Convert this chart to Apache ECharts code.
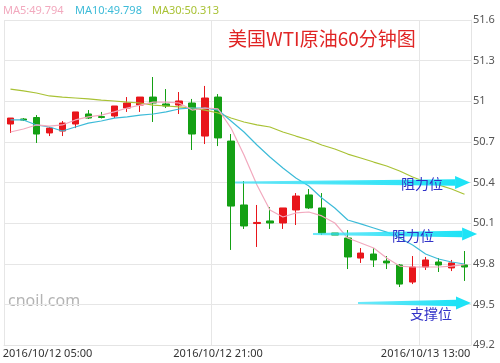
<!DOCTYPE html>
<html>
<head>
<meta charset="utf-8">
<script src="https://cdn.jsdelivr.net/npm/echarts@6/dist/echarts.min.js"></script>
<style>html,body{margin:0;padding:0;background:#fff}#c{width:500px;height:363px}</style>
</head>
<body>
<div id="c"></div>
<script>
const categories = [
  '2016/10/12 05:00','2016/10/12 06:00','2016/10/12 07:00','2016/10/12 08:00','2016/10/12 09:00','2016/10/12 10:00',
  '2016/10/12 11:00','2016/10/12 12:00','2016/10/12 13:00','2016/10/12 14:00','2016/10/12 15:00','2016/10/12 16:00',
  '2016/10/12 17:00','2016/10/12 18:00','2016/10/12 19:00','2016/10/12 20:00','2016/10/12 21:00','2016/10/12 22:00',
  '2016/10/12 23:00','2016/10/13 00:00','2016/10/13 01:00','2016/10/13 02:00','2016/10/13 03:00','2016/10/13 04:00',
  '2016/10/13 05:00','2016/10/13 06:00','2016/10/13 07:00','2016/10/13 08:00','2016/10/13 09:00','2016/10/13 10:00',
  '2016/10/13 11:00','2016/10/13 12:00','2016/10/13 13:00','2016/10/13 14:00','2016/10/13 15:00','2016/10/13 16:00'
];
const opens  = [50.832,50.869,50.880,50.766,50.780,50.832,50.906,50.887,50.891,50.950,50.972,51.031,
                50.980,50.972,50.987,50.743,51.031,50.706,50.234,50.097,50.116,50.101,50.197,50.308,
                50.212,50.027,49.990,49.842,49.872,49.820,49.791,49.665,49.776,49.813,49.769,49.791];
const closes = [50.876,50.861,50.758,50.802,50.839,50.921,50.876,50.880,50.965,50.987,51.031,50.987,
                50.965,51.002,50.758,51.024,50.729,50.226,50.079,50.105,50.101,50.212,50.300,50.212,
                50.027,50.012,49.850,49.879,49.828,49.806,49.650,49.776,49.828,49.791,49.806,49.776];
const lows   = [50.766,50.854,50.692,50.743,50.743,50.802,50.869,50.873,50.876,50.921,50.921,50.847,
                50.950,50.906,50.640,50.684,50.669,49.902,50.057,49.924,50.057,50.057,50.086,50.204,
                50.012,50.012,49.761,49.806,49.776,49.761,49.628,49.650,49.754,49.739,49.746,49.673];
const highs  = [50.876,50.876,50.898,50.810,50.854,50.921,50.935,50.921,50.965,51.031,51.031,51.179,
                51.090,51.068,51.017,51.113,51.053,50.758,50.411,50.234,50.219,50.212,50.322,50.352,
                50.322,50.027,50.049,49.916,49.916,49.857,49.798,49.857,49.850,49.842,49.828,49.894];
const ma5  = [50.773,50.795,50.825,50.817,50.825,50.862,50.884,50.898,50.921,50.950,50.972,50.994,
              50.994,50.987,50.935,50.950,50.943,50.802,50.603,50.382,50.197,50.145,50.175,50.182,
              50.153,50.101,49.990,49.953,49.916,49.842,49.783,49.776,49.776,49.776,49.783,49.794];
const ma10 = [50.862,50.862,50.825,50.810,50.780,50.810,50.839,50.854,50.876,50.884,50.898,50.906,
              50.921,50.943,50.950,50.950,50.935,50.854,50.773,50.677,50.588,50.507,50.433,50.374,
              50.286,50.212,50.123,50.094,50.064,50.034,49.990,49.938,49.872,49.835,49.813,49.798];
const ma30 = [51.090,51.076,51.061,51.039,51.031,51.024,51.017,51.009,51.002,50.994,50.987,50.972,
              50.965,50.958,50.950,50.935,50.913,50.876,50.847,50.825,50.810,50.773,50.743,50.714,
              50.677,50.647,50.610,50.581,50.551,50.522,50.485,50.441,50.404,50.382,50.352,50.313];
const yTicks = [49.2, 49.5, 49.8, 50.1, 50.4, 50.7, 51.0, 51.3, 51.6];
// annotation arrows (category index positions, price levels)
const arrowStart = [17.31, 23.32, 26.79];
const arrowEnd   = [35.43, 35.97, 35.50];
const arrowLevel = [50.40, 50.02, 49.51];
const labelIdx   = [31.73, 31.03, 32.42];
const labelLevel = [50.39, 50.005, 49.429];
const labelText  = ['阻力位', '阻力位', '支撑位'];
const titleText = '美国WTI原油60分钟图';
const watermark = 'cnoil.com';

const RED = '#e8161b', GREEN = '#14a014';
const C5 = '#f2a9be', C10 = '#3dbbd8', C30 = '#a9c235';

const kData = opens.map((o, i) => [o, closes[i], lows[i], highs[i]]);
const fmt = v => v.toFixed(3);

const chart = echarts.init(document.getElementById('c'), null, {renderer: 'canvas'});
chart.setOption({
  animation: false,
  backgroundColor: '#fff',
  grid: {left: 4, right: 29, top: 20, bottom: 18, containLabel: false, outerBoundsMode: 'none'},
  title: {
    text: titleText, left: 228, top: 29, padding: 0,
    textStyle: {color: '#e02424', fontSize: 19, fontWeight: 'normal', fontFamily: '"Noto Sans CJK SC", sans-serif'}
  },
  graphic: [
    {type: 'text', left: 3, top: 5, style: {text: 'MA5:' + fmt(ma5[ma5.length - 1]), fill: C5, font: '11px "Noto Sans", sans-serif'}},
    {type: 'text', left: 75, top: 5, style: {text: 'MA10:' + fmt(ma10[ma10.length - 1]), fill: C10, font: '11px "Noto Sans", sans-serif'}},
    {type: 'text', left: 152, top: 5, style: {text: 'MA30:' + fmt(ma30[ma30.length - 1]), fill: C30, font: '11px "Noto Sans", sans-serif'}},
    {type: 'text', left: 8, top: 293, z: 0, style: {text: watermark, fill: '#b4b4b4', font: '16px "Noto Sans", sans-serif'}}
  ],
  xAxis: {
    type: 'category', data: categories, boundaryGap: true,
    axisLine: {show: true, lineStyle: {color: '#e4e4e4'}},
    axisTick: {show: false},
    splitLine: {show: true, interval: 15, lineStyle: {color: '#e6e6e6', width: 1}},
    axisLabel: {
      interval: 15, margin: 3, color: '#333', fontSize: 11, fontFamily: '"Noto Sans", sans-serif',
      formatter: (v, i) => i === 0 ? '{f|' + v + '}' : v,
      rich: {f: {padding: [0, 0, 0, 74], color: '#333', fontSize: 11, fontFamily: '"Noto Sans", sans-serif'}}
    }
  },
  yAxis: {
    type: 'value', position: 'right', scale: true,
    min: yTicks[0], max: yTicks[yTicks.length - 1], interval: 0.3,
    axisLine: {show: true, lineStyle: {color: '#e4e4e4'}},
    axisTick: {show: false},
    splitLine: {show: true, lineStyle: {color: '#e6e6e6', width: 1}},
    axisLabel: {margin: 2, color: '#555', fontSize: 11, fontFamily: '"Noto Sans", sans-serif',
      formatter: v => String(Math.round(v * 10) / 10)}
  },
  series: [
    {
      type: 'candlestick', data: kData, barWidth: 7,
      itemStyle: {color: RED, color0: GREEN, borderColor: RED, borderColor0: GREEN, borderWidth: 1}
    },
    {type: 'line', data: ma30, symbol: 'none', lineStyle: {color: C30, width: 1.2}, z: 3},
    {type: 'line', data: ma10, symbol: 'none', lineStyle: {color: C10, width: 1.2}, z: 3},
    {type: 'line', data: ma5, symbol: 'none', lineStyle: {color: C5, width: 1.2}, z: 3},
    {
      type: 'custom', z: 10, clip: false,
      data: arrowLevel.map((v, i) => [i, v]),
      renderItem: function (params, api) {
        const i = params.dataIndex;
        const base = api.coord([0, arrowLevel[i]]);
        const band = api.size([1, 0])[0];
        const x0 = base[0] + arrowStart[i] * band;
        const x1 = base[0] + arrowEnd[i] * band;
        const y = base[1];
        const hl = 15, hh = 6.5, sw = 3.2;
        const lb = api.coord([0, labelLevel[i]]);
        const lx = lb[0] + labelIdx[i] * band;
        const grad = new echarts.graphic.LinearGradient(0, 0, 1, 0, [
          {offset: 0, color: 'rgba(60,225,248,0.75)'},
          {offset: 1, color: '#1ee3f6'}
        ]);
        return {
          type: 'group',
          children: [
            {type: 'polygon', shape: {points: [[x0, y - 1], [x1 - hl, y - sw], [x1 - hl, y + sw], [x0, y + 1]]}, style: {fill: grad}},
            {type: 'polygon', shape: {points: [[x1 - hl, y - hh], [x1, y], [x1 - hl, y + hh]]}, style: {fill: '#1ee3f6'}},
            {type: 'text', style: {text: labelText[i], x: lx, y: lb[1], align: 'center', verticalAlign: 'middle',
              fill: '#3232c8', font: '14px "Noto Sans CJK SC", sans-serif'}}
          ]
        };
      }
    }
  ]
});
</script>
</body>
</html>
